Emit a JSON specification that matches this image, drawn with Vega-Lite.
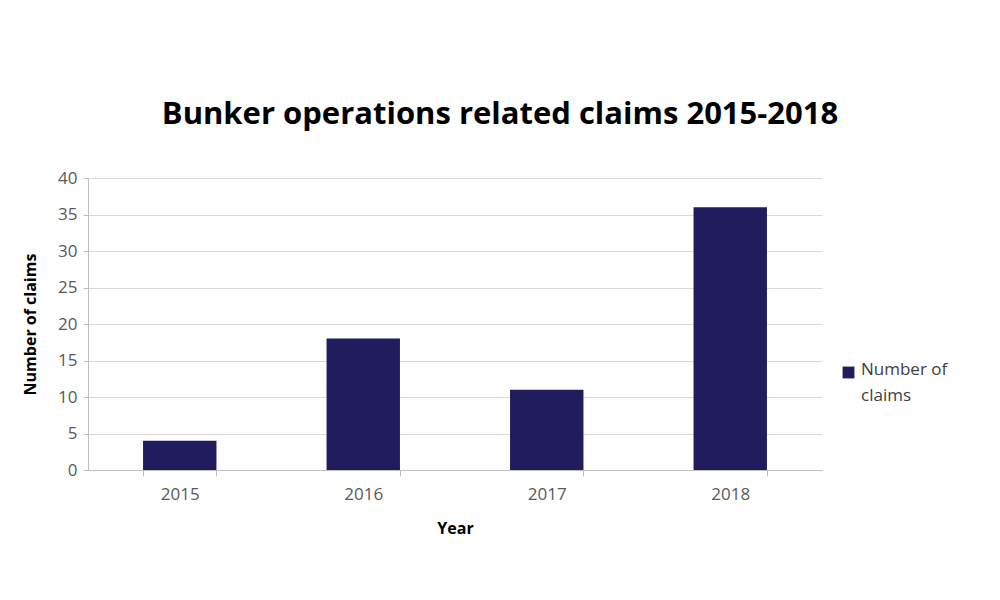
{
  "$schema": "https://vega.github.io/schema/vega-lite/v6.json",
  "width": 734,
  "height": 292,
  "autosize": "none",
  "padding": {"left": 88, "top": 178, "right": 178, "bottom": 130},
  "background": "white",
  "config": {"view": {"stroke": null}, "font": "Open Sans"},
  "title": {
    "text": "Bunker operations related claims 2015-2018",
    "font": "Open Sans",
    "fontSize": 31,
    "fontWeight": "bold",
    "color": "#000000",
    "anchor": "middle",
    "dx": 45,
    "offset": 38
  },
  "data": {
    "values": [
      {"Year": "2015", "Claims": 4},
      {"Year": "2016", "Claims": 18},
      {"Year": "2017", "Claims": 11},
      {"Year": "2018", "Claims": 36}
    ]
  },
  "mark": {"type": "bar"},
  "encoding": {
    "x": {
      "field": "Year",
      "type": "ordinal",
      "scale": {"paddingInner": 0.6, "paddingOuter": 0.3},
      "axis": {
        "title": "Year",
        "titleFont": "Open Sans",
        "titleFontSize": 16,
        "titleFontWeight": "bold",
        "titleColor": "#000000",
        "titlePadding": 18,
        "labelAngle": 0,
        "labelFont": "Open Sans",
        "labelFontSize": 17,
        "labelColor": "#595959",
        "labelPadding": 10,
        "domainColor": "#bfbfbf",
        "tickColor": "#bfbfbf",
        "tickBand": "extent",
        "tickSize": 6
      }
    },
    "y": {
      "field": "Claims",
      "type": "quantitative",
      "scale": {"domain": [0, 40]},
      "axis": {
        "title": "Number of claims",
        "titleFont": "Open Sans",
        "titleFontSize": 16,
        "titleFontWeight": "bold",
        "titleColor": "#000000",
        "titlePadding": 19,
        "values": [0, 5, 10, 15, 20, 25, 30, 35, 40],
        "labelFont": "Open Sans",
        "labelFontSize": 17,
        "labelColor": "#595959",
        "labelPadding": 6,
        "domainColor": "#bfbfbf",
        "tickColor": "#bfbfbf",
        "tickSize": 5,
        "gridColor": "#d9d9d9"
      }
    },
    "color": {
      "datum": "Number of claims",
      "scale": {"range": ["#201c5e"]},
      "legend": {
        "title": null,
        "orient": "none",
        "legendX": 752,
        "legendY": 186,
        "symbolType": "square",
        "symbolSize": 140,
        "symbolStrokeWidth": 0,
        "labelFont": "Open Sans",
        "labelFontSize": 17,
        "labelColor": "#404040",
        "labelExpr": "['Number of', 'claims']",
        "labelLimit": 200,
        "labelBaseline": "top",
        "labelOffset": 4,
        "encode": {"labels": {"update": {"dy": {"value": -11}, "lineHeight": {"value": 26}}}}
      }
    }
  }
}
